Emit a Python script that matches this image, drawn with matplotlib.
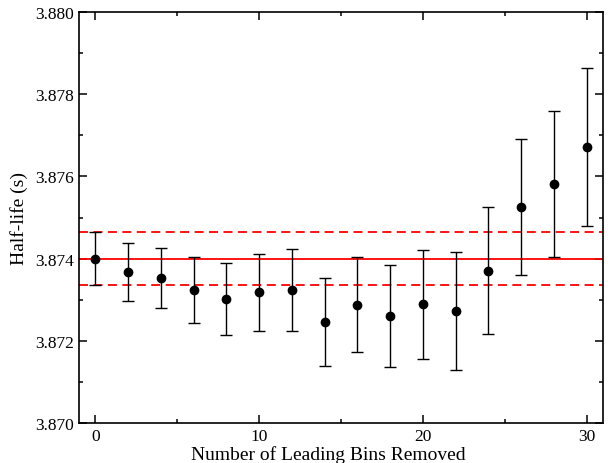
import matplotlib
matplotlib.use('Agg')
import matplotlib.pyplot as plt
from matplotlib.ticker import MultipleLocator, FormatStrFormatter

plt.rcParams['font.family'] = ['Liberation Serif', 'DejaVu Serif']

bins_removed = [0, 2, 4, 6, 8, 10, 12, 14, 16, 18, 20, 22, 24, 26, 28, 30]
half_life = [3.87400, 3.87367, 3.87353, 3.87324, 3.87302, 3.87318, 3.87324, 3.87245,
             3.87288, 3.87260, 3.87289, 3.87273, 3.87371, 3.87526, 3.87581, 3.87672]
half_life_err = [0.00065, 0.00070, 0.00074, 0.00081, 0.00087, 0.00094, 0.00100, 0.00107,
                 0.00115, 0.00124, 0.00133, 0.00143, 0.00154, 0.00166, 0.00178, 0.00192]
ref_value = 3.87400
ref_err = 0.00065

fig = plt.figure(figsize=(6.08, 4.64), dpi=100)
ax = fig.add_axes([0.130, 0.086, 0.862, 0.886])

ax.axhline(ref_value, color='red', lw=1.3)
ax.axhline(ref_value + ref_err, color='red', lw=1.3, ls=(0, (5, 3)))
ax.axhline(ref_value - ref_err, color='red', lw=1.3, ls=(0, (5, 3)))

ax.errorbar(bins_removed, half_life, yerr=half_life_err, fmt='o', color='black',
            ms=6, elinewidth=1, capsize=4, capthick=1, zorder=3)

ax.set_xlim(-1, 31)
ax.set_ylim(3.870, 3.880)
ax.xaxis.set_major_locator(MultipleLocator(10))
ax.xaxis.set_minor_locator(MultipleLocator(5))
ax.yaxis.set_major_locator(MultipleLocator(0.002))
ax.yaxis.set_minor_locator(MultipleLocator(0.001))
ax.yaxis.set_major_formatter(FormatStrFormatter('%.3f'))
for s in ax.spines.values():
    s.set_linewidth(1.2)
ax.tick_params(which='both', direction='in', top=True, right=True, labelsize=12.5, width=1.1)
ax.tick_params(which='major', length=6)
ax.tick_params(which='minor', length=3)

ax.set_xlabel('Number of Leading Bins Removed', fontsize=14)
ax.xaxis.set_label_coords(0.475, -0.053)
ax.set_ylabel('Half-life (s)', fontsize=14, labelpad=5)

plt.savefig('out.png', dpi=100)
